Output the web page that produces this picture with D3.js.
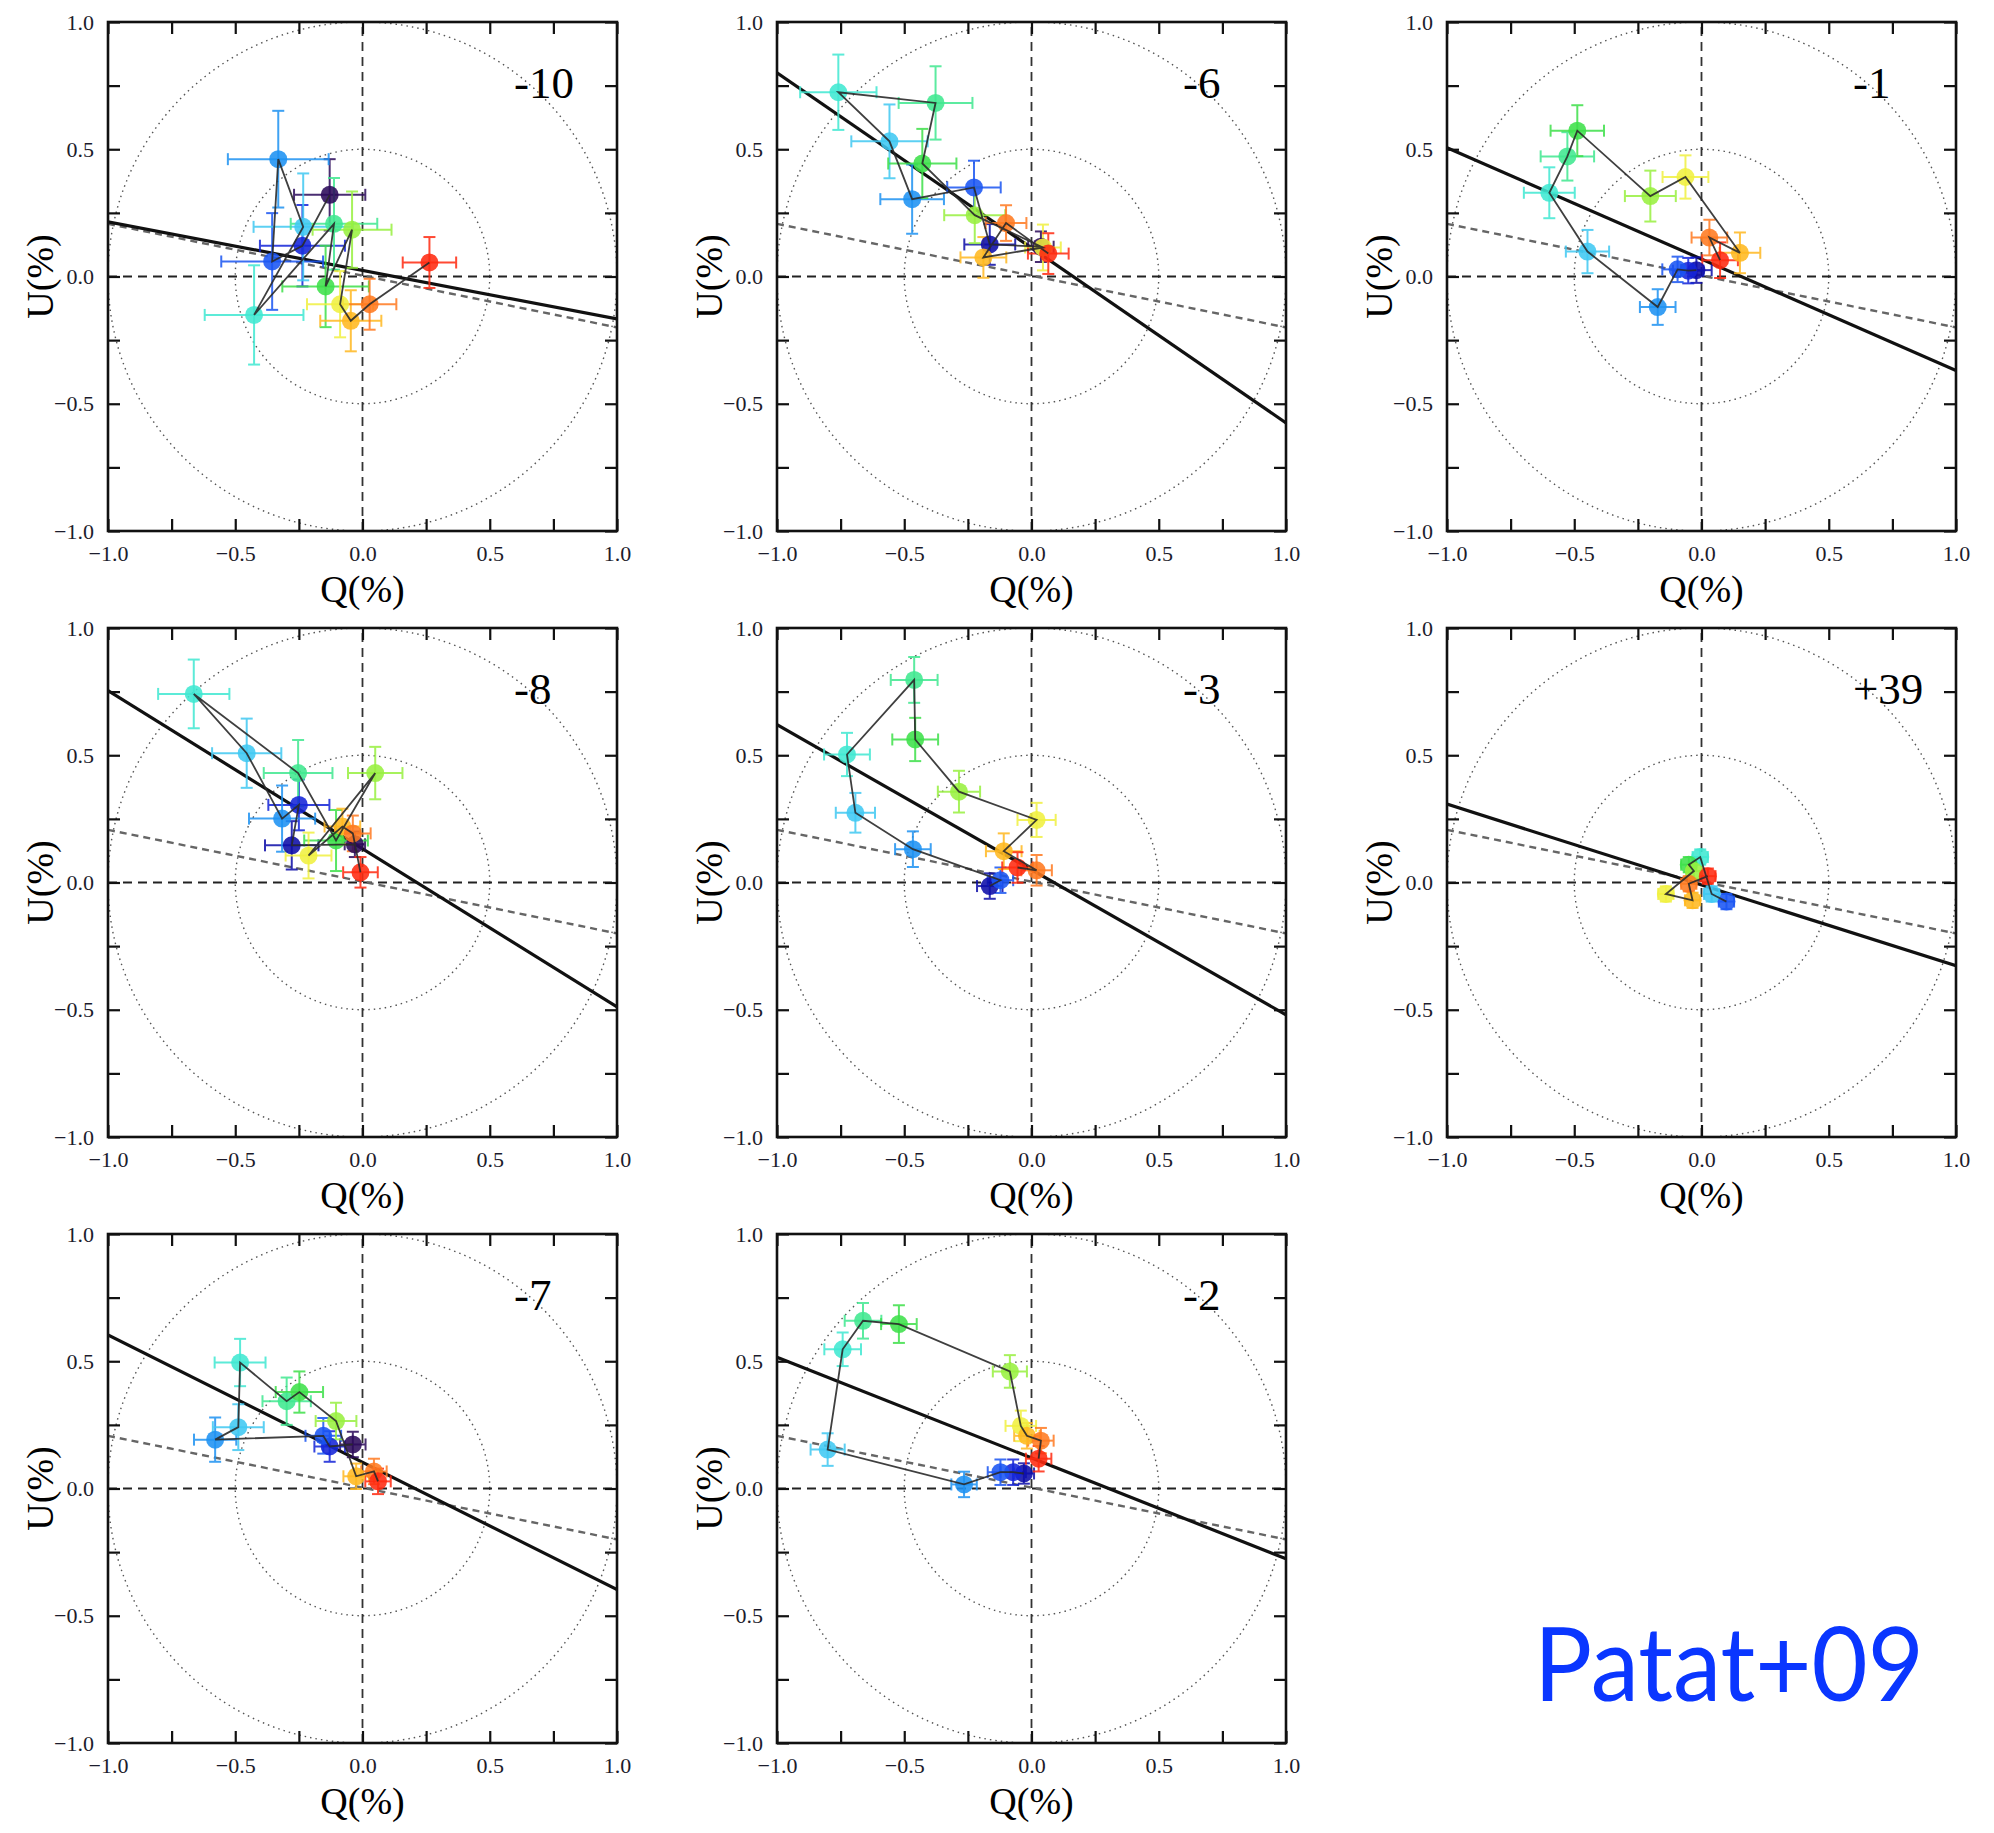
<!DOCTYPE html>
<html lang="en">
<head>
<meta charset="utf-8">
<title>Q-U planes - Patat+09</title>
<script type="text/javascript" src="https://cdnjs.cloudflare.com/ajax/libs/d3/7.8.5/d3.min.js"></script>
<style>
body { margin: 0; background: #fff; }
</style>
</head>
<body>
<div id="chart"></div>
<script type="text/javascript">

// epochs (days from maximum), in panel order (row by row)
var epochs = ["-10", "-6", "-1", "-8", "-3", "+39", "-7", "-2"];

// dominant axis: U at Q=-1 and at Q=+1
var fitLines = [
    [0.215, -0.167], [0.80, -0.575], [0.506, -0.369],
    [0.754, -0.489], [0.62, -0.52], [0.308, -0.327],
    [0.603, -0.397], [0.516, -0.276]
];

// ISP direction (same in every panel): U at Q=-1 and Q=+1
var ispLine = [0.207, -0.2];

// wavelength bins, blue to red
var binColors = ["#2b0a5a", "#0c0ca8", "#1424d8", "#1a55f2", "#1e92f2", "#40c8f2",
                 "#40e8d2", "#40e890", "#3ee04a", "#98f040", "#f0f040", "#ffb820", "#ff7a20", "#ff2a10"];

// points: [Q, U, errQ, errU, bin], in the order they are connected
var pts_m10 = [
    [-0.129, 0.321, 0.14, 0.14, 0], [-0.236, 0.121, 0.167, 0.16, 2], [-0.355, 0.059, 0.2, 0.19, 3],
    [-0.331, 0.461, 0.198, 0.19, 4], [-0.233, 0.195, 0.195, 0.21, 5], [-0.426, -0.151, 0.194, 0.195, 6],
    [-0.112, 0.207, 0.17, 0.18, 7], [-0.145, -0.039, 0.17, 0.16, 8], [-0.041, 0.184, 0.155, 0.15, 9],
    [-0.088, -0.109, 0.13, 0.13, 10], [-0.046, -0.174, 0.12, 0.12, 11], [0.028, -0.109, 0.105, 0.1, 12],
    [0.263, 0.055, 0.105, 0.1, 13]
];
var pts_m6 = [
    [0.037, 0.117, 0.05, 0.06, 0], [-0.164, 0.126, 0.1, 0.08, 1], [-0.226, 0.35, 0.105, 0.105, 3],
    [-0.469, 0.304, 0.125, 0.136, 4], [-0.558, 0.531, 0.15, 0.145, 5], [-0.759, 0.724, 0.15, 0.148, 6],
    [-0.377, 0.682, 0.145, 0.144, 7], [-0.429, 0.444, 0.134, 0.136, 8], [-0.223, 0.241, 0.12, 0.11, 9],
    [0.045, 0.114, 0.07, 0.09, 10], [-0.189, 0.075, 0.09, 0.08, 11], [-0.1, 0.21, 0.08, 0.07, 12],
    [0.066, 0.09, 0.08, 0.08, 13]
];
var pts_m1 = [
    [-0.02, 0.025, 0.06, 0.05, 1], [-0.052, 0.023, 0.06, 0.05, 2], [-0.094, 0.028, 0.06, 0.05, 3],
    [-0.172, -0.12, 0.07, 0.07, 4], [-0.448, 0.098, 0.085, 0.085, 5], [-0.598, 0.329, 0.1, 0.1, 6],
    [-0.527, 0.472, 0.105, 0.095, 7], [-0.488, 0.573, 0.105, 0.1, 8], [-0.201, 0.316, 0.1, 0.1, 9],
    [-0.063, 0.391, 0.09, 0.085, 10], [0.151, 0.093, 0.08, 0.08, 11], [0.031, 0.153, 0.07, 0.07, 12],
    [0.073, 0.064, 0.07, 0.07, 13]
];
var pts_m8 = [
    [-0.03, 0.15, 0.04, 0.05, 0], [-0.278, 0.146, 0.105, 0.095, 1], [-0.25, 0.305, 0.12, 0.1, 2],
    [-0.316, 0.251, 0.13, 0.13, 4], [-0.455, 0.508, 0.136, 0.136, 5], [-0.663, 0.741, 0.14, 0.135, 6],
    [-0.253, 0.43, 0.135, 0.13, 7], [-0.104, 0.165, 0.125, 0.12, 8], [0.05, 0.43, 0.107, 0.103, 9],
    [-0.212, 0.106, 0.09, 0.09, 10], [-0.079, 0.22, 0.07, 0.07, 11], [-0.038, 0.193, 0.07, 0.07, 12],
    [-0.008, 0.04, 0.068, 0.06, 13]
];
var pts_m3 = [
    [-0.164, -0.014, 0.05, 0.05, 1], [-0.122, 0.009, 0.05, 0.05, 3], [-0.466, 0.131, 0.07, 0.07, 4],
    [-0.692, 0.274, 0.077, 0.078, 5], [-0.725, 0.503, 0.09, 0.085, 6], [-0.461, 0.796, 0.092, 0.09, 7],
    [-0.457, 0.562, 0.09, 0.085, 8], [-0.285, 0.357, 0.083, 0.082, 9], [0.02, 0.246, 0.075, 0.067, 10],
    [-0.109, 0.123, 0.07, 0.07, 11], [0.02, 0.048, 0.06, 0.06, 12], [-0.055, 0.059, 0.06, 0.06, 13]
];
var pts_p39 = [
    [0.098, -0.075, 0.03, 0.03, 3], [0.04, -0.045, 0.03, 0.03, 5], [-0.005, 0.1, 0.03, 0.03, 6],
    [-0.05, 0.07, 0.03, 0.03, 8], [-0.03, 0.045, 0.03, 0.03, 9], [-0.14, -0.045, 0.03, 0.03, 10],
    [-0.035, -0.07, 0.03, 0.03, 11], [-0.05, -0.005, 0.03, 0.03, 12], [0.025, 0.025, 0.03, 0.03, 13]
];
var pts_m7 = [
    [-0.038, 0.173, 0.05, 0.05, 0], [-0.129, 0.165, 0.06, 0.06, 2], [-0.154, 0.207, 0.07, 0.07, 3],
    [-0.579, 0.192, 0.083, 0.087, 4], [-0.488, 0.241, 0.1, 0.09, 5], [-0.481, 0.495, 0.1, 0.093, 6],
    [-0.298, 0.343, 0.095, 0.093, 7], [-0.248, 0.379, 0.093, 0.081, 8], [-0.104, 0.265, 0.08, 0.072, 9],
    [-0.025, 0.048, 0.05, 0.05, 11], [0.045, 0.067, 0.05, 0.05, 12], [0.061, 0.028, 0.05, 0.05, 13]
];
var pts_m2 = [
    [-0.03, 0.059, 0.04, 0.04, 1], [-0.072, 0.064, 0.05, 0.05, 2], [-0.122, 0.064, 0.05, 0.05, 3],
    [-0.265, 0.016, 0.05, 0.05, 4], [-0.801, 0.153, 0.067, 0.064, 5], [-0.742, 0.547, 0.072, 0.066, 6],
    [-0.662, 0.659, 0.072, 0.07, 7], [-0.521, 0.646, 0.07, 0.074, 8], [-0.085, 0.46, 0.067, 0.064, 9],
    [-0.042, 0.246, 0.06, 0.06, 10], [-0.018, 0.207, 0.05, 0.05, 11], [0.037, 0.188, 0.05, 0.05, 12],
    [0.028, 0.117, 0.05, 0.05, 13]
];

var panelPoints = [pts_m10, pts_m6, pts_m1, pts_m8, pts_m3, pts_p39, pts_m7, pts_m2];

var tickValues = [-1, -0.75, -0.5, -0.25, 0, 0.25, 0.5, 0.75, 1];
var circleRadii = [0.5, 1.0];

// ---- layout ----
var width = 1994, height = 1833;
var colX = [108, 777, 1447];
var rowY = [22, 628, 1234];
var size = 509;
var serif = "'Liberation Serif', 'Times New Roman', Times, 'DejaVu Serif', serif";

var svg = d3.select("#chart").append("svg")
    .attr("width", width)
    .attr("height", height)
    .style("display", "block");

svg.append("rect").attr("width", width).attr("height", height).attr("fill", "#fff");

var color = d3.scaleOrdinal().domain(d3.range(binColors.length)).range(binColors);
var fmt = d3.format(".1f");

function labelFormat(d) {
    return (Math.abs(d * 2 - Math.round(d * 2)) < 1e-6) ? fmt(d) : "";
}

function drawPanel(i) {
    var col = i % 3, row = Math.floor(i / 3);
    var x = d3.scaleLinear().domain([-1, 1]).range([0, size]);
    var y = d3.scaleLinear().domain([-1, 1]).range([size, 0]);

    var g = svg.append("g")
        .attr("transform", "translate(" + colX[col] + "," + rowY[row] + ")");

    var clipId = "clip" + i;
    g.append("clipPath").attr("id", clipId)
        .append("rect").attr("width", size).attr("height", size);

    var inner = g.append("g").attr("clip-path", "url(#" + clipId + ")");

    // dotted circles
    inner.selectAll(".ring")
        .data(circleRadii)
        .enter().append("circle")
            .attr("class", "ring")
            .attr("cx", x(0))
            .attr("cy", y(0))
            .attr("r", function(d) { return x(d) - x(0); })
            .attr("fill", "none")
            .attr("stroke", "#555")
            .attr("stroke-width", 1.4)
            .attr("stroke-dasharray", "1.5,4");

    // zero lines
    inner.append("line")
        .attr("x1", x(-1)).attr("x2", x(1)).attr("y1", y(0)).attr("y2", y(0))
        .attr("stroke", "#222").attr("stroke-width", 1.8).attr("stroke-dasharray", "9,6");
    inner.append("line")
        .attr("x1", x(0)).attr("x2", x(0)).attr("y1", y(-1)).attr("y2", y(1))
        .attr("stroke", "#333").attr("stroke-width", 1.8).attr("stroke-dasharray", "9,6");

    // ISP line (dashed) and dominant axis (solid)
    inner.append("line")
        .attr("x1", x(-1)).attr("y1", y(ispLine[0]))
        .attr("x2", x(1)).attr("y2", y(ispLine[1]))
        .attr("stroke", "#666").attr("stroke-width", 2.4).attr("stroke-dasharray", "7,5");
    inner.append("line")
        .attr("x1", x(-1)).attr("y1", y(fitLines[i][0]))
        .attr("x2", x(1)).attr("y2", y(fitLines[i][1]))
        .attr("stroke", "#111").attr("stroke-width", 3.2);

    var pts = panelPoints[i];
    var cap = 6;

    // error bars
    var eb = inner.selectAll(".err")
        .data(pts)
        .enter().append("g")
            .attr("class", "err")
            .attr("stroke", function(d) { return color(d[4]); })
            .attr("stroke-width", 2)
            .attr("opacity", 0.85);
    eb.append("line")
        .attr("x1", function(d) { return x(d[0] - d[2]); })
        .attr("x2", function(d) { return x(d[0] + d[2]); })
        .attr("y1", function(d) { return y(d[1]); })
        .attr("y2", function(d) { return y(d[1]); });
    eb.append("line")
        .attr("x1", function(d) { return x(d[0]); })
        .attr("x2", function(d) { return x(d[0]); })
        .attr("y1", function(d) { return y(d[1] - d[3]); })
        .attr("y2", function(d) { return y(d[1] + d[3]); });
    [-1, 1].forEach(function(s) {
        eb.append("line")
            .attr("x1", function(d) { return x(d[0] + s * d[2]); })
            .attr("x2", function(d) { return x(d[0] + s * d[2]); })
            .attr("y1", function(d) { return y(d[1]) - cap; })
            .attr("y2", function(d) { return y(d[1]) + cap; });
        eb.append("line")
            .attr("x1", function(d) { return x(d[0]) - cap; })
            .attr("x2", function(d) { return x(d[0]) + cap; })
            .attr("y1", function(d) { return y(d[1] + s * d[3]); })
            .attr("y2", function(d) { return y(d[1] + s * d[3]); });
    });

    // points
    inner.selectAll(".pt")
        .data(pts)
        .enter().append("circle")
            .attr("class", "pt")
            .attr("cx", function(d) { return x(d[0]); })
            .attr("cy", function(d) { return y(d[1]); })
            .attr("r", 9)
            .attr("fill", function(d) { return color(d[4]); })
            .attr("opacity", 0.88);

    // connecting path
    inner.append("path")
        .datum(pts)
        .attr("d", d3.line().x(function(d) { return x(d[0]); }).y(function(d) { return y(d[1]); }))
        .attr("fill", "none")
        .attr("stroke", "#2a2a2a")
        .attr("stroke-width", 1.8)
        .attr("opacity", 0.9);

    // axes: ticks inward on all four sides
    var axes = [
        {axis: d3.axisBottom(x), t: "translate(0," + size + ")", labels: true},
        {axis: d3.axisLeft(y), t: "translate(0,0)", labels: true},
        {axis: d3.axisTop(x), t: "translate(0,0)", labels: false},
        {axis: d3.axisRight(y), t: "translate(" + size + ",0)", labels: false}
    ];
    axes.forEach(function(a) {
        var ax = g.append("g")
            .attr("transform", a.t)
            .call(a.axis.tickValues(tickValues)
                .tickSizeInner(-12).tickSizeOuter(0).tickPadding(14)
                .tickFormat(a.labels ? labelFormat : function() { return ""; }));
        ax.attr("font-family", null).attr("font-size", null);
        ax.select(".domain").remove();
        ax.selectAll(".tick line").attr("stroke", "#111").attr("stroke-width", 2.2);
        ax.selectAll(".tick text")
            .attr("fill", "#1c1c2c")
            .style("font-family", serif)
            .style("font-size", "22px");
    });

    // frame
    g.append("rect")
        .attr("width", size).attr("height", size)
        .attr("fill", "none")
        .attr("stroke", "#111")
        .attr("stroke-width", 2.6);

    // axis titles
    g.append("text")
        .attr("x", size / 2)
        .attr("y", size + 71)
        .attr("text-anchor", "middle")
        .style("font-family", serif)
        .style("font-size", "38px")
        .text("Q(%)");
    g.append("text")
        .attr("transform", "translate(-55," + (size / 2) + ") rotate(-90)")
        .attr("text-anchor", "middle")
        .style("font-family", serif)
        .style("font-size", "38px")
        .text("U(%)");

    // epoch label
    g.append("text")
        .attr("x", x(0.595))
        .attr("y", y(0.70))
        .style("font-family", serif)
        .style("font-size", "45px")
        .text(epochs[i]);
}

for (var i = 0; i < epochs.length; i++) drawPanel(i);

svg.append("text")
    .attr("x", 1534)
    .attr("y", 1701)
    .attr("textLength", 390)
    .attr("lengthAdjust", "spacingAndGlyphs")
    .style("font-family", "Lato, 'Open Sans', sans-serif")
    .style("font-size", "102px")
    .attr("fill", "#0a36ff")
    .text("Patat+09");

</script>
</body>
</html>
